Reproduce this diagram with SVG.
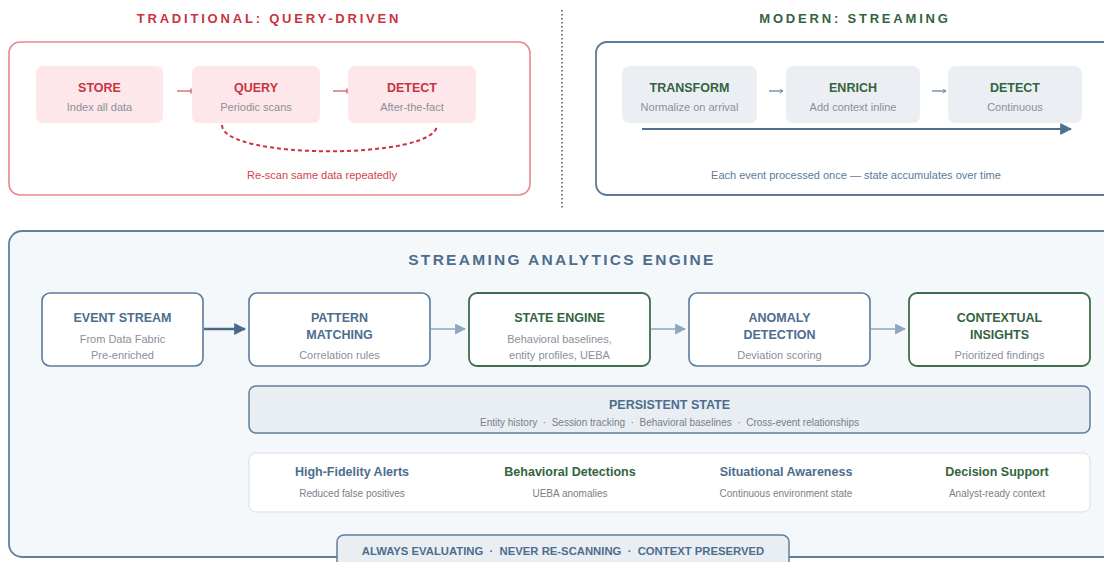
<svg xmlns="http://www.w3.org/2000/svg" width="1104" height="562" viewBox="0 0 1104 562">
<defs>
<style>
text{font-family:"Liberation Sans",Arial,sans-serif;text-anchor:middle}
.h{font-weight:bold;font-size:13px;letter-spacing:2.8px}
.bt{font-weight:bold;font-size:12.5px}
.st{font-size:11px;fill:#8a9099}
.red{fill:#c9343f}
.grn{fill:#33643e}
.blu{fill:#4d6d8d}
.tbox{fill:#fde7ea}
.mbox{fill:#ebeff4}
.node{fill:#fff;stroke:#5b7b9b;stroke-width:1.6}
.gnode{fill:#fff;stroke:#3f6e48;stroke-width:1.8}
.small{font-size:10px;fill:#7a8088}
</style>
<marker id="tk" viewBox="0 0 6 6" refX="5" refY="3" markerWidth="6" markerHeight="6" orient="auto" markerUnits="userSpaceOnUse"><path d="M5,0.5 L5,5.5" stroke="#d0505a" stroke-width="1.2"/></marker>
<marker id="ma" viewBox="0 0 6 6" refX="5" refY="3" markerWidth="5" markerHeight="5" orient="auto" markerUnits="userSpaceOnUse"><path d="M1,0.5 L5,3 L1,5.5" fill="none" stroke="#5b7b9b" stroke-width="1"/></marker>
<marker id="big" viewBox="0 0 10 10" refX="9" refY="5" markerWidth="12" markerHeight="12" orient="auto" markerUnits="userSpaceOnUse"><path d="M0,0 L10,5 L0,10 Z" fill="#4f6f8f"/></marker>
<marker id="dark" viewBox="0 0 10 10" refX="9" refY="5" markerWidth="12" markerHeight="12" orient="auto" markerUnits="userSpaceOnUse"><path d="M0,0 L10,5 L0,10 Z" fill="#4a6a8c"/></marker>
<marker id="lite" viewBox="0 0 10 10" refX="9" refY="5" markerWidth="11" markerHeight="11" orient="auto" markerUnits="userSpaceOnUse"><path d="M0,0 L10,5 L0,10 Z" fill="#8ea7be"/></marker>
</defs>
<rect width="1104" height="562" fill="#fff"/>

<!-- Traditional panel -->
<g id="traditional">
<text class="h red" x="269" y="23">TRADITIONAL: QUERY-DRIVEN</text>
<rect x="9" y="42" width="521" height="153" rx="11" fill="#fff" stroke="#e9868e" stroke-width="1.6"/>
<text x="322" y="179" style="font-size:11px" fill="#d0444f">Re-scan same data repeatedly</text>
</g>
<g id="t-store"><rect class="tbox" x="36" y="66" width="127" height="57" rx="7"/><text class="bt red" x="99.5" y="92">STORE</text><text class="st" x="99.5" y="111">Index all data</text></g>
<g id="t-query"><rect class="tbox" x="192" y="66" width="128" height="57" rx="7"/><text class="bt red" x="256" y="92">QUERY</text><text class="st" x="256" y="111">Periodic scans</text></g>
<g id="t-detect"><rect class="tbox" x="348" y="66" width="128" height="57" rx="7"/><text class="bt red" x="412" y="92">DETECT</text><text class="st" x="412" y="111">After-the-fact</text></g>

<!-- divider -->
<line x1="562" y1="10" x2="562" y2="208" stroke="#2c3e55" stroke-width="1.3" stroke-dasharray="1.5 2.5"/>

<!-- Modern panel -->
<g id="modern">
<text class="h grn" x="855" y="23">MODERN: STREAMING</text>
<rect x="596" y="42" width="530" height="153" rx="11" fill="#fff" stroke="#5b7b9b" stroke-width="1.8"/>
<text x="856" y="179" style="font-size:11px" fill="#5b7b9b">Each event processed once — state accumulates over time</text>
</g>
<g id="m-transform"><rect class="mbox" x="622" y="66" width="135" height="57" rx="7"/><text class="bt grn" x="689.5" y="92">TRANSFORM</text><text class="st" x="689.5" y="111">Normalize on arrival</text></g>
<g id="m-enrich"><rect class="mbox" x="786" y="66" width="134" height="57" rx="7"/><text class="bt grn" x="853" y="92">ENRICH</text><text class="st" x="853" y="111">Add context inline</text></g>
<g id="m-detect"><rect class="mbox" x="948" y="66" width="134" height="57" rx="7"/><text class="bt grn" x="1015" y="92">DETECT</text><text class="st" x="1015" y="111">Continuous</text></g>

<!-- Engine -->
<g id="engine">
<rect x="9" y="231" width="1115" height="326" rx="13" fill="#f5f8fb" stroke="#5f7f9f" stroke-width="1.8"/>
<text x="562" y="265" class="blu" style="font-weight:bold;font-size:15.5px;letter-spacing:2.3px">STREAMING ANALYTICS ENGINE</text>
</g>
<g id="event-stream"><rect class="node" x="42" y="293" width="161" height="73" rx="8"/><text class="bt blu" x="122.5" y="322">EVENT STREAM</text><text class="st" x="122.5" y="343">From Data Fabric</text><text class="st" x="122.5" y="359">Pre-enriched</text></g>
<g id="pattern-matching"><rect class="node" x="249" y="293" width="181" height="73" rx="8"/><text class="bt blu" x="339.5" y="322">PATTERN</text><text class="bt blu" x="339.5" y="339">MATCHING</text><text class="st" x="339.5" y="359">Correlation rules</text></g>
<g id="state-engine"><rect class="gnode" x="469" y="293" width="181" height="73" rx="8"/><text class="bt grn" x="559.5" y="322">STATE ENGINE</text><text class="st" x="559.5" y="343">Behavioral baselines,</text><text class="st" x="559.5" y="359">entity profiles, UEBA</text></g>
<g id="anomaly-detection"><rect class="node" x="689" y="293" width="181" height="73" rx="8"/><text class="bt blu" x="779.5" y="322">ANOMALY</text><text class="bt blu" x="779.5" y="339">DETECTION</text><text class="st" x="779.5" y="359">Deviation scoring</text></g>
<g id="contextual-insights"><rect class="gnode" x="909" y="293" width="181" height="73" rx="8"/><text class="bt grn" x="999.5" y="322">CONTEXTUAL</text><text class="bt grn" x="999.5" y="339">INSIGHTS</text><text class="st" x="999.5" y="359">Prioritized findings</text></g>

<g id="persistent-state"><rect x="249" y="386" width="841" height="47" rx="7" fill="#e9eef3" stroke="#5f7f9f" stroke-width="1.5"/><text class="bt blu" x="669.5" y="409">PERSISTENT STATE</text><text class="small" x="669.5" y="426">Entity history&#160;&#160;·&#160;&#160;Session tracking&#160;&#160;·&#160;&#160;Behavioral baselines&#160;&#160;·&#160;&#160;Cross-event relationships</text></g>

<g id="outcomes"><rect x="249" y="453" width="841" height="59" rx="7" fill="#fff" stroke="#d6dee6" stroke-width="1"/>
<text class="bt blu" x="352" y="476">High-Fidelity Alerts</text><text class="small" x="352" y="497">Reduced false positives</text>
<text class="bt grn" x="570" y="476">Behavioral Detections</text><text class="small" x="570" y="497">UEBA anomalies</text>
<text class="bt blu" x="786" y="476">Situational Awareness</text><text class="small" x="786" y="497">Continuous environment state</text>
<text class="bt grn" x="997" y="476">Decision Support</text><text class="small" x="997" y="497">Analyst-ready context</text>
</g>

<g id="banner"><rect x="337" y="535" width="452" height="40" rx="7" fill="#e9eef3" stroke="#5f7f9f" stroke-width="1.5"/><text x="563" y="555" class="blu" style="font-weight:bold;font-size:11.3px">ALWAYS EVALUATING&#160;&#160;·&#160;&#160;NEVER RE-SCANNING&#160;&#160;·&#160;&#160;CONTEXT PRESERVED</text></g>

<!-- connectors -->
<g id="connectors" fill="none">
<line x1="177" y1="91" x2="191" y2="91" stroke="#d0505a" stroke-width="1.2" marker-end="url(#tk)"/>
<line x1="333" y1="91" x2="347" y2="91" stroke="#d0505a" stroke-width="1.2" marker-end="url(#tk)"/>
<path d="M222,125 C222,160 437,160 437,125" stroke="#cc3340" stroke-width="2" stroke-dasharray="4 3"/>
<line x1="769" y1="91" x2="783" y2="91" stroke="#5b7b9b" stroke-width="1.2" marker-end="url(#ma)"/>
<line x1="932" y1="91" x2="946" y2="91" stroke="#5b7b9b" stroke-width="1.2" marker-end="url(#ma)"/>
<line x1="642" y1="129" x2="1071" y2="129" stroke="#4f6f8f" stroke-width="1.8" marker-end="url(#big)"/>
<line x1="204" y1="329" x2="245" y2="329" stroke="#4a6a8c" stroke-width="2.6" marker-end="url(#dark)"/>
<line x1="431" y1="329" x2="465" y2="329" stroke="#8ea7be" stroke-width="1.6" marker-end="url(#lite)"/>
<line x1="651" y1="329" x2="685" y2="329" stroke="#8ea7be" stroke-width="1.6" marker-end="url(#lite)"/>
<line x1="871" y1="329" x2="905" y2="329" stroke="#8ea7be" stroke-width="1.6" marker-end="url(#lite)"/>
</g>
</svg>
